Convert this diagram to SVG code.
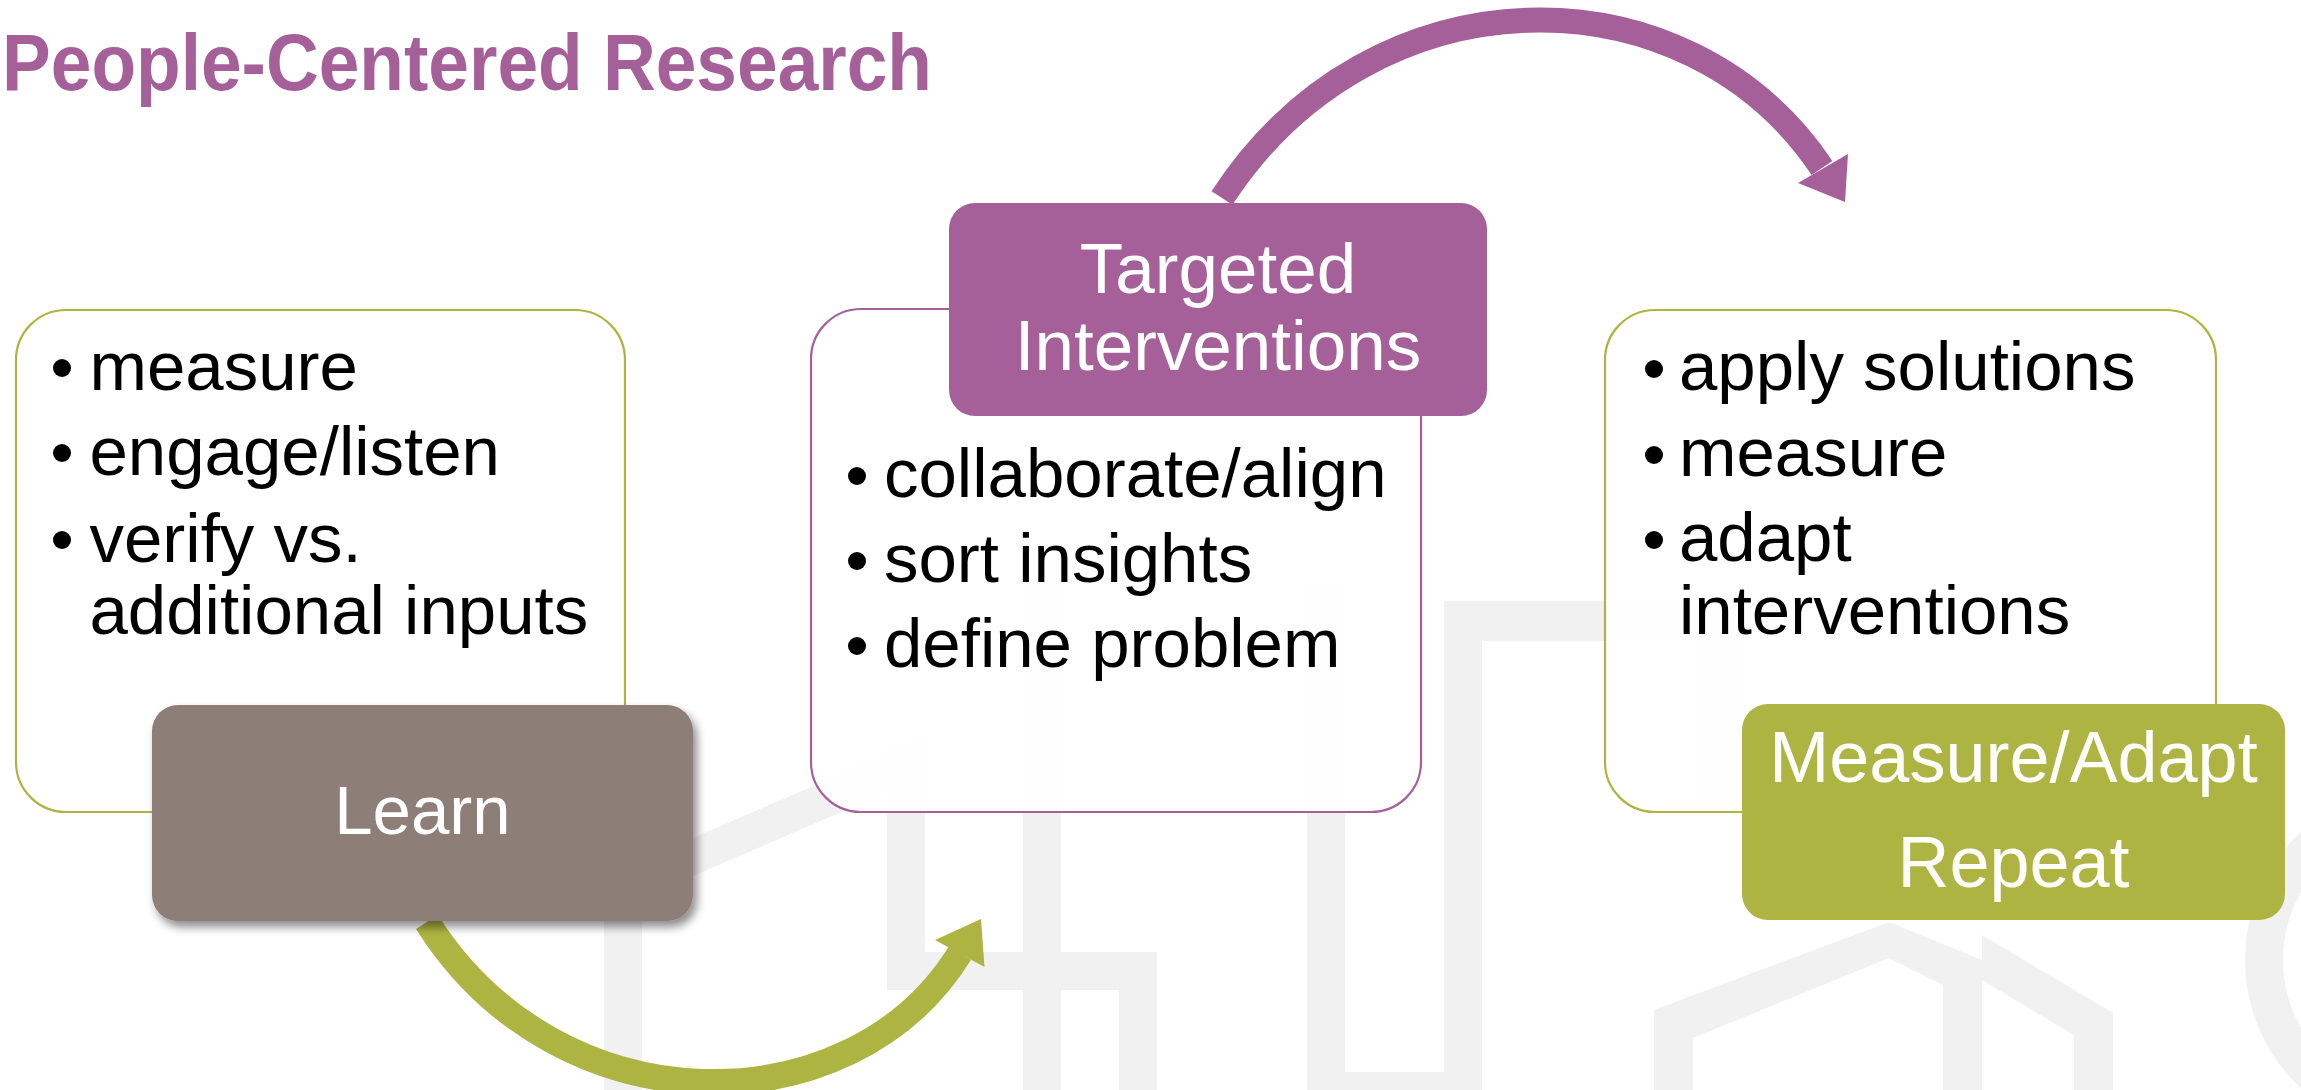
<svg xmlns="http://www.w3.org/2000/svg" width="2301" height="1090" viewBox="0 0 2301 1090">
  <style>
    .wm { fill: #F1F1F1; }
    .card { fill: #FFFFFF; fill-opacity: 0.9; stroke-width: 2.2; }
    .green { stroke: #ADB441; }
    .purple { stroke: #A5609A; }
    .body { font-family: "Liberation Sans", Arial, sans-serif; font-size: 69px; fill: #000000; }
    .head { font-family: "Liberation Sans", Arial, sans-serif; fill: #FFFFFF; text-anchor: middle; }
    .dot { fill: #000000; }
    .title { font-family: "Liberation Sans", Arial, sans-serif; font-weight: bold; font-size: 80px; fill: #A5609A; }
  </style>
  <defs>
    <filter id="shadow" x="-10%" y="-10%" width="125%" height="135%">
      <feDropShadow dx="4" dy="6" stdDeviation="5" flood-color="#000000" flood-opacity="0.45"/>
    </filter>
  </defs>

  <rect width="2301" height="1090" fill="#FFFFFF"/>

  <!-- background watermark -->
  <g id="watermark">
    <polygon class="wm" points="604,876 925,738 925,776 642,898 642,1090 604,1090"/>
    <rect class="wm" x="887" y="745" width="38" height="245"/>
    <rect class="wm" x="887" y="952" width="270" height="38"/>
    <rect class="wm" x="1023" y="560" width="38" height="530"/>
    <rect class="wm" x="1119" y="952" width="38" height="138"/>
    <rect class="wm" x="1307" y="588" width="38" height="502"/>
    <rect class="wm" x="1307" y="1072" width="175" height="18"/>
    <rect class="wm" x="1444" y="601" width="38" height="489"/>
    <rect class="wm" x="1444" y="601" width="295" height="40"/>
    <rect class="wm" x="1700" y="601" width="39" height="200"/>
    <path class="wm" d="M1654,1090 V1010 L1889,922 L1982,960 V1090 H1943 V985 L1889,958 L1693,1038 V1090 Z"/>
    <path class="wm" d="M1982,935 L2113,1013 V1090 H2074 V1035 L1982,980 Z"/>
    <circle cx="2420" cy="960" r="156" fill="none" stroke="#F1F1F1" stroke-width="38"/>
  </g>

  <text class="title" x="2" y="90" textLength="930" lengthAdjust="spacingAndGlyphs">People-Centered Research</text>

  <!-- connectors -->
  <g id="connectors">
    <g id="arrow-learn-to-targeted">
      <path d="M427,922 C557.7,1130 851,1130 960,953" fill="none" stroke="#ADB441" stroke-width="26"/>
      <polygon points="981,919 935,940 984.5,967" fill="#ADB441"/>
    </g>
    <g id="arrow-targeted-to-measure">
      <path d="M1222,198 C1372.6,-34 1687,-34 1822,168" fill="none" stroke="#A5609A" stroke-width="25"/>
      <polygon points="1845,202 1798,183 1848,154" fill="#A5609A"/>
    </g>
  </g>

  <!-- node: Learn -->
  <g id="node-learn">
    <rect class="card green" x="16" y="310" width="609" height="502" rx="50" ry="50"/>
    <circle class="dot" cx="62" cy="368" r="9"/>
    <text class="body" x="89.5" y="389.5">measure</text>
    <circle class="dot" cx="62" cy="453" r="9"/>
    <text class="body" x="89.5" y="474.5">engage/listen</text>
    <circle class="dot" cx="62" cy="540" r="9"/>
    <text class="body" x="89.5" y="561.5">verify vs.</text>
    <text class="body" x="89.5" y="634">additional inputs</text>
    <rect x="152" y="705" width="541" height="216" rx="26" ry="26" fill="#8D7F78" filter="url(#shadow)"/>
    <text class="head" x="422.5" y="834" font-size="69">Learn</text>
  </g>

  <!-- node: Targeted Interventions -->
  <g id="node-targeted">
    <rect class="card purple" x="811" y="309" width="610" height="503" rx="50" ry="50"/>
    <circle class="dot" cx="857" cy="476" r="9"/>
    <text class="body" x="884" y="497">collaborate/align</text>
    <circle class="dot" cx="857" cy="561" r="9"/>
    <text class="body" x="884" y="582">sort insights</text>
    <circle class="dot" cx="857" cy="646" r="9"/>
    <text class="body" x="884" y="667">define problem</text>
    <rect x="949" y="203" width="538" height="213" rx="26" ry="26" fill="#A5609A"/>
    <text class="head" x="1218" y="293" font-size="71">Targeted</text>
    <text class="head" x="1218" y="370" font-size="71">Interventions</text>
  </g>

  <!-- node: Measure/Adapt Repeat -->
  <g id="node-measure">
    <rect class="card green" x="1605" y="310" width="611" height="502" rx="50" ry="50"/>
    <circle class="dot" cx="1654" cy="369" r="9"/>
    <text class="body" x="1679" y="390">apply solutions</text>
    <circle class="dot" cx="1654" cy="455" r="9"/>
    <text class="body" x="1679" y="476">measure</text>
    <circle class="dot" cx="1654" cy="540" r="9"/>
    <text class="body" x="1679" y="561">adapt</text>
    <text class="body" x="1679" y="633.5">interventions</text>
    <rect x="1742" y="704" width="543" height="216" rx="26" ry="26" fill="#ADB441"/>
    <text class="head" x="2013.5" y="782" font-size="72">Measure/Adapt</text>
    <text class="head" x="2013.5" y="887" font-size="72">Repeat</text>
  </g>
</svg>
